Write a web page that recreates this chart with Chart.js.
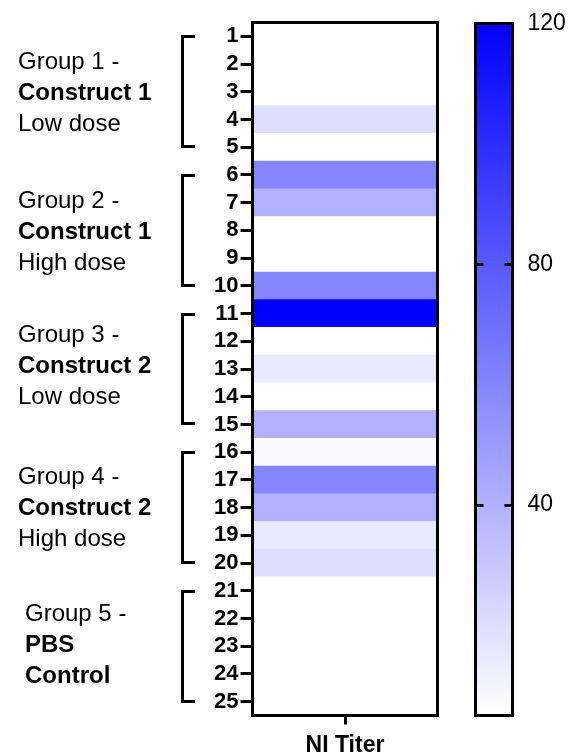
<!DOCTYPE html>
<html>
<head>
<meta charset="utf-8">
<title>NI Titer heat map</title>
<script src="https://cdn.jsdelivr.net/npm/chart.js@4.4.1/dist/chart.umd.min.js"></script>
<style>
  html, body { margin: 0; padding: 0; background: #fff; }
  #wrap { position: relative; width: 576px; height: 756px; }
  #wrap canvas { position: absolute; left: 0; top: 0; }
</style>
</head>
<body>
<div id="wrap">
  <canvas id="heat" width="576" height="756"></canvas>
  <canvas id="scale" width="576" height="756"></canvas>
</div>
<script>
// Animals (rows) and their NI titers
const animals = ['1','2','3','4','5','6','7','8','9','10','11','12','13','14','15',
                 '16','17','18','19','20','21','22','23','24','25'];
const niTiter = [5, 5, 5, 20, 5, 60, 40, 5, 5, 60, 120, 5, 15, 5, 40,
                 7.5, 60, 40, 15, 20, 5, 5, 5, 5, 5];
const measureLabel = 'NI Titer';

// Treatment groups: label lines, which lines are bold, first/last animal
const groupLines = [
  ['Group 1 -', 'Construct 1', 'Low dose'],
  ['Group 2 -', 'Construct 1', 'High dose'],
  ['Group 3 -', 'Construct 2', 'Low dose'],
  ['Group 4 -', 'Construct 2', 'High dose'],
  ['Group 5 -', 'PBS', 'Control']
];
const groupBold = [
  [false, true, false],
  [false, true, false],
  [false, true, false],
  [false, true, false],
  [false, true, true]
];
const groupFirst = ['1', '6', '11', '16', '21'];
const groupLast  = ['5', '10', '15', '20', '25'];

// Colour scale range and its tick labels
const scaleMin = 5;
const scaleMax = 120;
const scaleTicks = [40, 80, 120];

const FONT = '"Liberation Sans", Arial, Helvetica, sans-serif';

// white (low) -> pure blue (high)
function titerColor(v) {
  const t = Math.max(0, Math.min(1, (v - scaleMin) / (scaleMax - scaleMin)));
  const c = Math.round(255 * (1 - t));
  return 'rgb(' + c + ',' + c + ',255)';
}

// Thick black frame around a chart area
const framePlugin = {
  id: 'frame',
  afterDatasetsDraw(chart) {
    const { ctx, chartArea: a } = chart;
    ctx.save();
    ctx.lineWidth = 3;
    ctx.strokeStyle = '#000';
    ctx.lineJoin = 'miter';
    ctx.strokeRect(a.left, a.top, a.right - a.left, a.bottom - a.top);
    ctx.restore();
  }
};

// Group brackets and labels on the left of the row axis
const groupPlugin = {
  id: 'groups',
  afterDraw(chart) {
    const { ctx } = chart;
    const y = chart.scales.y;
    const textShift = [0, 0, -5, -1, -3];
    ctx.save();
    ctx.strokeStyle = '#000';
    ctx.fillStyle = '#000';
    ctx.lineWidth = 3;
    ctx.lineJoin = 'miter';
    ctx.lineCap = 'butt';
    groupLines.forEach((lines, g) => {
      const y0 = Math.round(y.getPixelForValue(animals.indexOf(groupFirst[g]))) + 0.5;
      const y1 = Math.round(y.getPixelForValue(animals.indexOf(groupLast[g]))) - 0.5;
      const bx = 182.5;
      ctx.beginPath();
      ctx.moveTo(195, y0);
      ctx.lineTo(bx, y0);
      ctx.lineTo(bx, y1);
      ctx.lineTo(195, y1);
      ctx.stroke();

      const mid = (y0 + y1) / 2 + textShift[g];
      const tx = g === 4 ? 25 : 18;
      ctx.textAlign = 'left';
      ctx.textBaseline = 'alphabetic';
      lines.forEach((t, i) => {
        ctx.font = (groupBold[g][i] ? 'bold ' : '') + '24px ' + FONT;
        ctx.fillText(t, tx, mid + 8.5 + (i - 1) * 31);
      });
    });
    ctx.restore();
  }
};

// Heat map: one full-width bar per animal, coloured by titer
new Chart(document.getElementById('heat'), {
  type: 'bar',
  data: {
    labels: animals,
    datasets: [{
      data: niTiter.map(() => [0, 1]),
      backgroundColor: niTiter.map(titerColor),
      borderWidth: 0,
      categoryPercentage: 1,
      barPercentage: 1
    }]
  },
  options: {
    indexAxis: 'y',
    responsive: false,
    animation: false,
    devicePixelRatio: 1,
    layout: { padding: { left: 0, top: 22.5, right: 138.5, bottom: 0 } },
    plugins: { legend: { display: false }, tooltip: { enabled: false } },
    scales: {
      y: {
        type: 'category',
        offset: true,
        grid: {
          offset: false,
          drawOnChartArea: false,
          drawTicks: true,
          tickLength: 12,
          tickWidth: 3,
          tickColor: '#000'
        },
        border: { display: false },
        ticks: {
          color: '#000',
          autoSkip: false,
          padding: 2,
          font: { family: FONT, size: 22, weight: 'bold' }
        },
        afterFit(s) { s.width = 252.5; }
      },
      x: {
        type: 'linear',
        min: 0,
        max: 1,
        grid: {
          drawOnChartArea: false,
          drawTicks: true,
          tickLength: 9,
          tickWidth: 3,
          tickColor: '#000'
        },
        border: { display: false },
        ticks: {
          color: '#000',
          padding: 7,
          maxRotation: 0,
          font: { family: FONT, size: 23, weight: 'bold' },
          callback: () => measureLabel
        },
        afterBuildTicks(s) { s.ticks = [{ value: 0.5 }]; },
        afterFit(s) { s.height = 40.5; }
      }
    }
  },
  plugins: [framePlugin, groupPlugin]
});

// Inward tick marks on both sides of the colour bar
const scaleTickPlugin = {
  id: 'scaleTicks',
  afterDatasetsDraw(chart) {
    const { ctx, chartArea: a } = chart;
    const y = chart.scales.y;
    ctx.save();
    ctx.strokeStyle = '#000';
    ctx.lineWidth = 3;
    scaleTicks.forEach(v => {
      if (v >= scaleMax) return;
      const py = Math.round(y.getPixelForValue(v)) + 0.5;
      ctx.beginPath();
      ctx.moveTo(a.left, py);
      ctx.lineTo(a.left + 8, py);
      ctx.moveTo(a.right - 8, py);
      ctx.lineTo(a.right, py);
      ctx.stroke();
    });
    ctx.restore();
  }
};

// Colour bar: a single floating bar filled with the titer gradient
new Chart(document.getElementById('scale'), {
  type: 'bar',
  data: {
    labels: [measureLabel],
    datasets: [{
      data: [[scaleMin, scaleMax]],
      backgroundColor(c) {
        const chart = c.chart;
        if (!chart.chartArea) return titerColor(scaleMax);
        const y = chart.scales.y;
        const g = chart.ctx.createLinearGradient(0, y.getPixelForValue(scaleMin), 0, y.getPixelForValue(scaleMax));
        g.addColorStop(0, titerColor(scaleMin));
        g.addColorStop(1, titerColor(scaleMax));
        return g;
      },
      borderWidth: 0,
      categoryPercentage: 1,
      barPercentage: 1
    }]
  },
  options: {
    responsive: false,
    animation: false,
    devicePixelRatio: 1,
    layout: { padding: { left: 475.5, top: 23.5, right: 0, bottom: 40.5 } },
    plugins: { legend: { display: false }, tooltip: { enabled: false } },
    scales: {
      x: { display: false },
      y: {
        position: 'right',
        min: scaleMin,
        max: scaleMax,
        grid: {
          display: true,
          drawOnChartArea: false,
          drawTicks: true,
          tickLength: 15,
          tickColor: 'rgba(0,0,0,0)'
        },
        border: { display: false },
        ticks: {
          color: '#000',
          padding: 0,
          font: { family: FONT, size: 23 }
        },
        afterBuildTicks(s) { s.ticks = scaleTicks.map(v => ({ value: v })); },
        afterFit(s) { s.width = 63.5; }
      }
    }
  },
  plugins: [framePlugin, scaleTickPlugin]
});
</script>
</body>
</html>
